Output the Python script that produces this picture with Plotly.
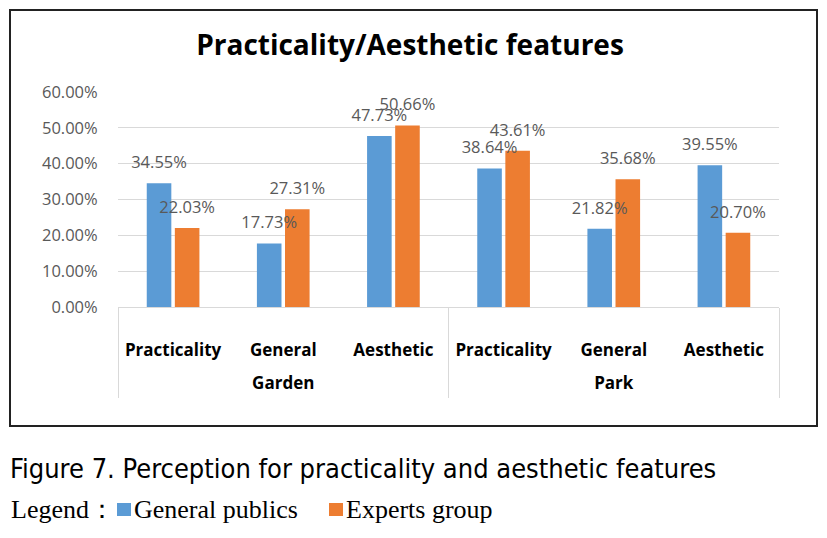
import plotly.graph_objects as go

# ---- data ----
groups = ["Garden", "Garden", "Garden", "Park", "Park", "Park"]
categories = ["Practicality", "General", "Aesthetic", "Practicality", "General", "Aesthetic"]
general_publics = [0.3455, 0.1773, 0.4773, 0.3864, 0.2182, 0.3955]
experts_group = [0.2203, 0.2731, 0.5066, 0.4361, 0.3568, 0.2070]
y_ticks = [0, 0.1, 0.2, 0.3, 0.4, 0.5, 0.6]
series_names = ["General publics", "Experts group"]
title_text = "Practicality/Aesthetic features"
caption_text = "Figure 7. Perception for practicality and aesthetic features"
legend_label = "Legend："

# ---- layout geometry (pixels; page body adds an 8px margin) ----
OFF = 8
W, H = 827 - 2 * OFF, 538 - 2 * OFF
PL, PR, PT, PB = 118, 779, 92, 307        # plot area in window pixels
L, T = PL - OFF, PT - OFF
R, B = W - (PR - OFF), H - (PB - OFF)
pw, ph = W - L - R, H - T - B


def px(x):
    return (x - OFF - L) / pw


def py(y):
    return (H - B - (y - OFF)) / ph


BLUE = "#5B9BD5"
ORANGE = "#ED7D31"
GRAY = "#595959"
colors = [BLUE, ORANGE]

GSP = "<span style='font-size:27px'>\u2009</span>"
fig = go.Figure()
x = [[f"{GSP}<span style='font-size:17px'><b>{g}</b></span>{GSP}" for g in groups], categories]
for name, vals, col, og in [(series_names[0], general_publics, BLUE, "a"),
                            (series_names[1], experts_group, ORANGE, "b")]:
    fig.add_trace(go.Bar(x=x, y=vals, name=name, marker_color=col,
                         marker_line_width=0, offsetgroup=og,
                         showlegend=False, hoverinfo="skip"))
for vals, og in [(general_publics, "a"), (experts_group, "b")]:
    fig.add_trace(go.Scatter(x=x, y=vals, mode="markers+text",
                             text=[f"{v:.2%}" for v in vals],
                             textposition="top center",
                             textfont=dict(family="Open Sans", size=16.5, color=GRAY),
                             marker=dict(size=16, color="rgba(0,0,0,0)"),
                             offsetgroup=og, showlegend=False, cliponaxis=False,
                             hoverinfo="skip"))

fig.update_layout(
    width=W, height=H,
    margin=dict(l=L, r=R, t=T, b=B, autoexpand=False),
    paper_bgcolor="white", plot_bgcolor="white",
    barmode="group", bargap=0.49, bargroupgap=0.125,
    scattermode="group", scattergap=0.49,
    title=dict(text="<b>" + title_text + "</b>", x=(410 - OFF) / W, xanchor="center",
               y=1 - (45 - OFF) / H, yanchor="middle",
               font=dict(family="Open Sans", size=28, color="black")),
    showlegend=False,
)
fig.update_yaxes(range=[0, 0.6], tickvals=y_ticks, tickformat=".2%",
                 showgrid=True, gridcolor="#D9D9D9", gridwidth=1,
                 zeroline=False, showline=False,
                 ticks="outside", ticklen=16, tickcolor="rgba(0,0,0,0)",
                 tickfont=dict(family="Open Sans", size=16.5, color=GRAY))
# invisible tall spacer makes the first label row taller, pushing the group row down
SP = "<span style='font-size:43px'>\u2009</span>"
fig.update_xaxes(type="multicategory", showline=True, linecolor="#D9D9D9",
                 linewidth=1, showgrid=False, ticks="", tickangle=0,
                 ticklabelstandoff=28,
                 showdividers=True, dividercolor="#D9D9D9", dividerwidth=1,
                 tickfont=dict(family="Open Sans", size=17, color="black"),
                 tickprefix=SP + "<b>", ticksuffix="</b>" + SP)

# outer border box
fig.add_shape(type="rect", xref="paper", yref="paper",
              x0=px(10), x1=px(817), y0=py(426), y1=py(10),
              line=dict(color="#222222", width=2), fillcolor="rgba(0,0,0,0)",
              layer="below")

# caption
fig.add_annotation(text=caption_text, xref="paper", yref="paper",
                   x=px(8), y=py(468), xanchor="left", yanchor="middle",
                   showarrow=False,
                   font=dict(family="Liberation Sans Narrow, DejaVu Sans Condensed",
                             size=27, color="black"))

# legend line (drawn below the caption like the reference)
LEG_FONT = dict(family="Liberation Serif, DejaVu Serif", size=26, color="black")
fig.add_annotation(text=legend_label, xref="paper", yref="paper",
                   x=px(9), y=py(509), xanchor="left", yanchor="middle",
                   showarrow=False, font=LEG_FONT)
sq_x = [(117, 131), (329, 343)]
txt_x = [132, 344]
for (a, b), tx, name, col in zip(sq_x, txt_x, series_names, colors):
    fig.add_shape(type="rect", xref="paper", yref="paper",
                  x0=px(a), x1=px(b), y0=py(516), y1=py(503),
                  line=dict(width=0), fillcolor=col)
    fig.add_annotation(text=name, xref="paper", yref="paper",
                       x=px(tx), y=py(509), xanchor="left", yanchor="middle",
                       showarrow=False, font=LEG_FONT)

fig.write_html("out.html")
